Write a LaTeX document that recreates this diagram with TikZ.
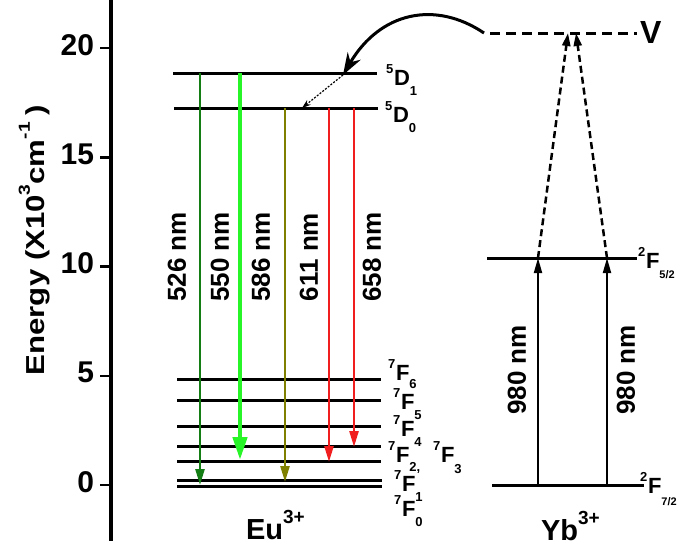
\documentclass[tikz,border=0pt]{standalone}
\usepackage{fontspec}
\setmainfont{Liberation Sans}
\usetikzlibrary{arrows.meta}
\newcommand\fsz[1]{\fontsize{#1}{#1}\selectfont}
\newcommand\up[3]{\raisebox{#1}{\fsz{#2}#3}}
\definecolor{dkgreen}{RGB}{20,125,20}
\definecolor{ltgreen}{RGB}{40,245,40}
\definecolor{olivec}{RGB}{128,128,0}
\definecolor{redc}{RGB}{240,30,30}
% level label: name, x of superscript, baseline, sup, letter, sub, drop of sub
\newcommand\lvllab[7]{%
  \node[suplab,anchor=base west] (#1s) at (#2,#3-12) {#4};
  \node[lab,anchor=base west] (#1) at (#2+8,#3) {#5};
  \node[suplab,anchor=base west] (#1b) at ([yshift=-#7pt]#1.base east) {#6};}
\begin{document}
\begin{tikzpicture}[x=1pt,y=-1pt,
  every node/.style={inner sep=0pt,outer sep=0pt,font=\bfseries},
  level/.style={line width=3pt},
  axisline/.style={line width=3.5pt},
  tickline/.style={line width=2.5pt},
  ticklab/.style={font=\bfseries\fsz{30}},
  lab/.style={font=\bfseries\fsz{22}},
  suplab/.style={font=\bfseries\fsz{13}},
  wl/.style={font=\bfseries\fsz{26},rotate=90},
  ion/.style={font=\bfseries\fsz{29}},
  emi/.style={line width=2.5pt,-{Triangle[length=16pt,width=9pt]}},
  pump/.style={line width=2pt,-{Triangle[length=15pt,width=8pt]}},
  virt/.style={line width=2.5pt,dash pattern=on 7pt off 4pt,-{Triangle[length=13pt,width=8pt]}}
]
\useasboundingbox (0,0) rectangle (697,550);

% axis
\coordinate (axtop) at (111,0);
\coordinate (axbot) at (111,541);
\draw[axisline] (axtop) -- (axbot);
\foreach \v/\y in {20/48,15/157.3,10/266.5,5/375.8,0/485}{
  \coordinate (t\v) at (112,\y);
  \coordinate (tl\v) at (100,\y);
  \draw[tickline] (tl\v) -- (t\v);
  \node[ticklab,anchor=east] (n\v) at (94,\y-3) {\v};
}
\node[rotate=90,anchor=base] (ylab) at (44,240)
  {\scalebox{1.2}[1]{\fsz{26}Energy (X10\up{14pt}{16}{3}cm\up{14pt}{16}{-1}\hspace{6pt})}};

% Eu levels
\foreach \n/\y/\a/\b in {D1/73/173/377,D0/108.3/174/378,F6/379.3/177/381,F5/400.7/177/381,F4/426.7/177/381,F3/446/177/381,F2/461/177/381,F1/480.7/177/382,F0/486/177/382}{
  \coordinate (\n l) at (\a,\y);
  \coordinate (\n r) at (\b,\y);
  \draw[level] (\n l) -- (\n r);
}
% Yb levels
\coordinate (Yhl) at (487,258); \coordinate (Yhr) at (637,258);
\coordinate (Yll) at (492,485); \coordinate (Ylr) at (644,485);
\draw[level] (Yhl) -- (Yhr);
\draw[level] (Yll) -- (Ylr);
\coordinate (Vl) at (490,33); \coordinate (Vr) at (637,33);
\draw[line width=3pt,dash pattern=on 10pt off 6pt] (Vl) -- (Vr);

% emission arrows
\coordinate (s526) at (200,73);  \coordinate (e526) at (200,485);
\coordinate (s550) at (240,73);  \coordinate (e550) at (240,460);
\coordinate (s586) at (285,108.3); \coordinate (e586) at (285,482);
\coordinate (s611) at (329,108.3); \coordinate (e611) at (329,462);
\coordinate (s658) at (354,108.3); \coordinate (e658) at (354,447);
\draw[emi,dkgreen] (s526) -- (e526);
\draw[ltgreen,line width=4.5pt,-{Triangle[length=23pt,width=14pt]}] (s550) -- (e550);
\draw[emi,olivec] (s586) -- (e586);
\draw[emi,redc] (s611) -- (e611);
\draw[emi,redc] (s658) -- (e658);

\node[wl] (w526) at (177,257) {526 nm};
\node[wl] (w550) at (220,257) {550 nm};
\node[wl] (w586) at (261,257) {586 nm};
\node[wl] (w611) at (309,257) {611 nm};
\node[wl] (w658) at (372,257) {658 nm};

% Yb pump arrows
\coordinate (p1s) at (538,485); \coordinate (p1e) at (538,258);
\coordinate (p2s) at (607,485); \coordinate (p2e) at (607,258);
\draw[pump] (p1s) -- (p1e);
\draw[pump] (p2s) -- (p2e);
\node[wl] (w980a) at (517,370) {980 nm};
\node[wl] (w980b) at (626,370) {980 nm};

% virtual level arrows
\coordinate (v1) at (568,33); \coordinate (v2) at (576,33);
\draw[virt] (p1e) -- (v1);
\draw[virt] (p2e) -- (v2);

% energy transfer
\coordinate (cs) at (484,33);
\coordinate (ce) at (343,75);
\coordinate (dt) at (302,108);
\draw[line width=3pt,-{Stealth[length=22pt,width=15pt]}] (cs) .. controls (435,0) and (380,12) .. (ce);
\draw[line width=1.2pt,dash pattern=on 2pt off 1.5pt,-{Stealth[length=9pt,width=6pt]}] (ce) -- (dt);

% level labels
\lvllab{lD1}{386}{85}{5}{D}{1}{10}
\lvllab{lD0}{385}{122}{5}{D}{0}{10}
\lvllab{lF6}{388}{380}{7}{F}{6}{8}
\lvllab{lF5}{393}{409}{7}{F}{5}{10}
\lvllab{lF4}{393}{436}{7}{F}{4}{10}
\lvllab{lF2}{388}{462}{7}{F}{2,}{9}
\lvllab{lF3}{433}{462}{7}{F}{3}{11}
\lvllab{lF1}{394}{491}{7}{F}{1}{10}
\lvllab{lF0}{394}{516}{7}{F}{0}{10}
\node[suplab,anchor=base west] (lYhs) at (638,256) {2};
\node[lab,anchor=base west] (lYh) at (646,268) {F};
\node[font=\bfseries\fsz{11},anchor=base west] (lYhb) at ([yshift=-10pt]lYh.base east) {5/2};
\node[suplab,anchor=base west] (lYls) at (640,481) {2};
\node[lab,anchor=base west] (lYl) at (648,493) {F};
\node[font=\bfseries\fsz{11},anchor=base west] (lYlb) at ([yshift=-12pt]lYl.base east) {7/2};
\node[font=\bfseries\fsz{32},anchor=base west] (lV) at (640,43) {V};

% ion labels
\node[ion,anchor=base west] (eu) at (246,539) {Eu\up{16pt}{19}{3+}};
\node[ion,anchor=base west] (yb) at (541,540) {Yb\up{16pt}{19}{3+}};
\end{tikzpicture}
\end{document}
